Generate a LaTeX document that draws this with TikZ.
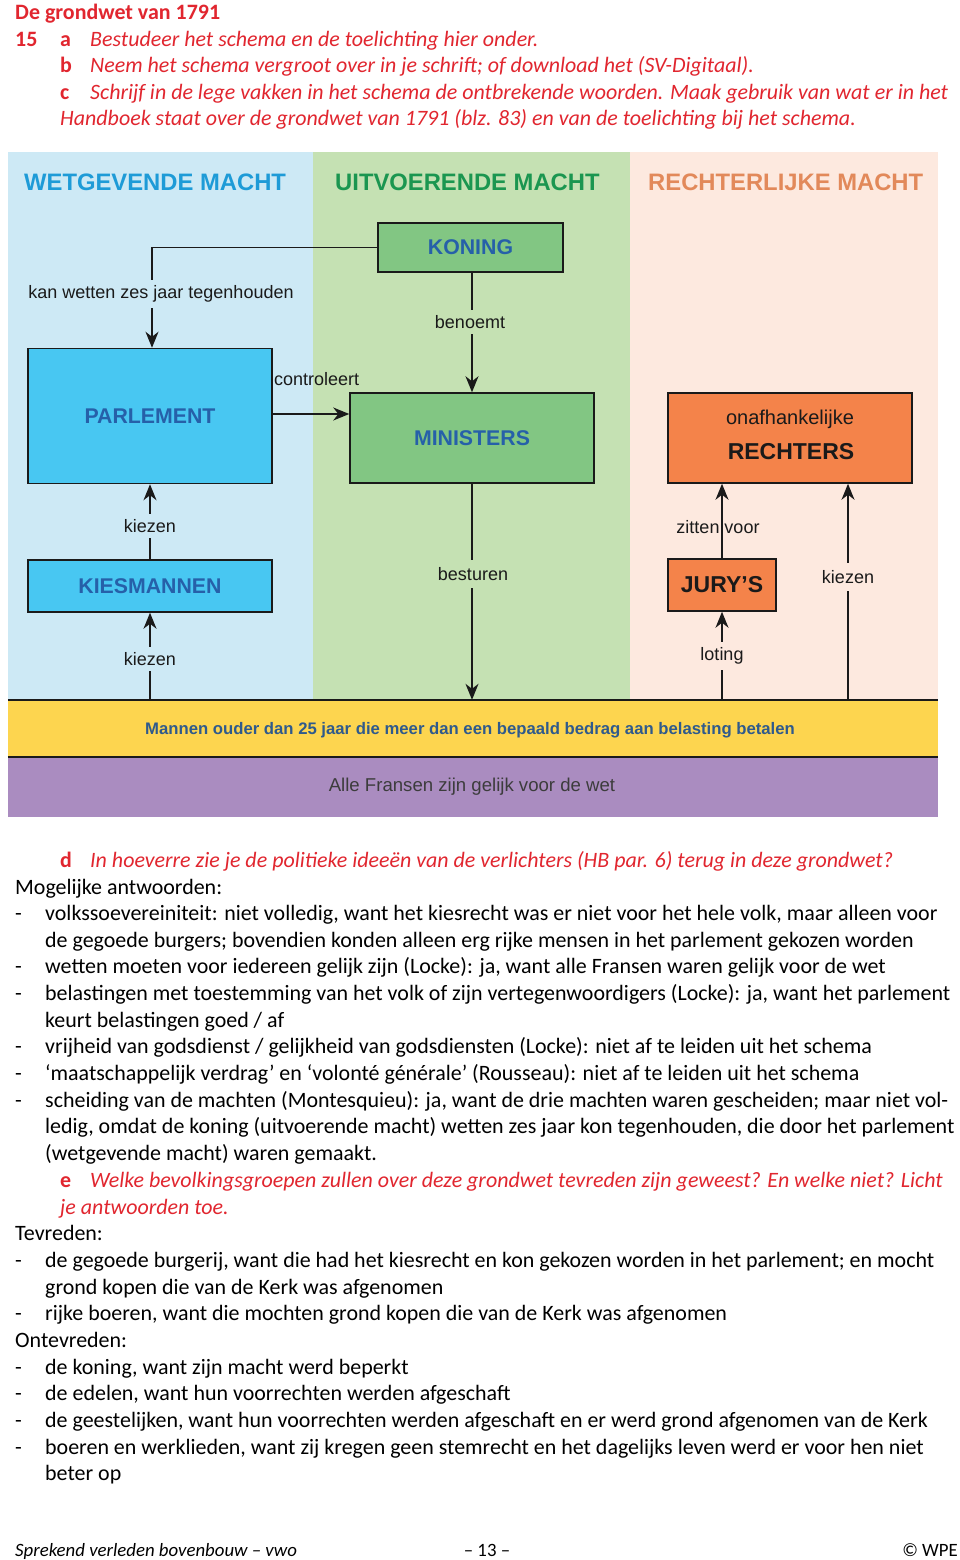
\documentclass[tikz,border=0pt]{standalone}
\usepackage{fontspec}
\setmainfont{Carlito}
\newfontfamily\arialf{Liberation Sans}
\usetikzlibrary{arrows.meta,calc}
\definecolor{redq}{HTML}{E1262F}
\definecolor{bgblue}{HTML}{CDE9F5}
\definecolor{bggreen}{HTML}{C5E1B3}
\definecolor{bgpeach}{HTML}{FDE9DF}
\definecolor{hdblue}{HTML}{1E9BD7}
\definecolor{hdgreen}{HTML}{1B9650}
\definecolor{hdorange}{HTML}{E2895A}
\definecolor{boxcyan}{HTML}{48C7F2}
\definecolor{boxgreen}{HTML}{82C683}
\definecolor{boxorange}{HTML}{F4834A}
\definecolor{txtblue}{HTML}{2660A9}
\definecolor{bandyellow}{HTML}{FDD54F}
\definecolor{bandpurple}{HTML}{AA8CC0}
\definecolor{bandtxt}{HTML}{2F5A8C}
\definecolor{ink}{HTML}{1A1A1A}
\newcommand\bodyf{\fontsize{21.95}{26.5}\selectfont}
\newcommand\labf{\arialf\fontsize{18}{20}\selectfont}
\begin{document}
\begin{tikzpicture}[x=1pt,y=-1pt,
  txt/.style={anchor=base west, inner sep=0pt, font=\bodyf, text=black},
  qtxt/.style={txt, font=\bodyf\itshape, text=redq},
  qlab/.style={txt, font=\bodyf\bfseries, text=redq},
  hdr/.style={font=\arialf\bfseries\fontsize{23.8}{26}\selectfont, inner sep=0pt},
  box/.style={draw=ink, line width=1.5pt, inner sep=0pt},
  btxt/.style={font=\arialf\bfseries\fontsize{21.3}{24}\selectfont, text=txtblue},
  lab/.style={font=\labf, inner sep=2pt, text=ink},
  arr/.style={draw=ink, line width=1.3pt, -{Stealth[length=16pt,width=13pt,inset=5pt]}},
  ln/.style={draw=ink, line width=1.3pt}]
\useasboundingbox (0,0) rectangle (960,1560);
\fill[white] (0,0) rectangle (960,1560);

% ---------- header text ----------
\node[qlab] (title) at (15,20) {De grondwet van 1791};
\node[qlab] (n15) at (15,47) {15};
\node[qlab] (qa) at (60,47) {a};
\node[qtxt] (ta) at (90,47) {Bestudeer het schema en de toelichting hier onder.};
\node[qlab] (qb) at (60,73) {b};
\node[qtxt] (tb) at (90,73) {Neem het schema vergroot over in je schrift; of download het (SV-Digitaal).};
\node[qlab] (qc) at (60,100) {c};
\node[qtxt] (tc) at (90,100) {Schrijf in de lege vakken in het schema de ontbrekende woorden. Maak gebruik van wat er in het};
\node[qtxt] (tc2) at (60,126) {Handboek staat over de grondwet van 1791 (blz. 83) en van de toelichting bij het schema.};

% ---------- diagram backgrounds ----------
\fill[bgblue] (8,152) rectangle (313,700);
\fill[bggreen] (313,152) rectangle (630,700);
\fill[bgpeach] (630,152) rectangle (938,700);

\node[hdr, text=hdblue, anchor=west] (h1) at (24,182) {WETGEVENDE MACHT};
\node[hdr, text=hdgreen, anchor=west] (h2) at (335,182) {UITVOERENDE MACHT};
\node[hdr, text=hdorange, anchor=west] (h3) at (648,182) {RECHTERLIJKE MACHT};

% bands
\node[fill=bandyellow, minimum width=930pt, minimum height=57pt, inner sep=0pt] (band) at (473,728.5) {};
\node[font=\arialf\bfseries\fontsize{16.7}{18}\selectfont, text=bandtxt] (bandt) at (470,730) {Mannen ouder dan 25 jaar die meer dan een bepaald bedrag aan belasting betalen};
\node[fill=bandpurple, minimum width=930pt, minimum height=60pt, inner sep=0pt] (purp) at (473,787) {};
\node[font=\arialf\fontsize{18.6}{20}\selectfont, text=ink!85] (purpt) at (472,787) {Alle Fransen zijn gelijk voor de wet};
\draw[ink, line width=2.2pt] (band.north west) -- (band.north east);
\draw[ink, line width=2.2pt] (band.south west) -- (band.south east);

% boxes
\node[box, fill=boxgreen, minimum width=185pt, minimum height=49pt, btxt] (koning) at (470.5,247.5) {KONING};
\node[box, fill=boxcyan, minimum width=244pt, minimum height=135pt, btxt] (parl) at (150,416) {PARLEMENT};
\node[box, fill=boxcyan, minimum width=244pt, minimum height=52pt, btxt] (kies) at (150,586) {KIESMANNEN};
\node[box, fill=boxgreen, minimum width=244pt, minimum height=90pt, btxt] (min) at (472,438) {MINISTERS};
\node[box, fill=boxorange, minimum width=244pt, minimum height=90pt] (recht) at (790,438) {};
\node[font=\arialf\fontsize{20}{22}\selectfont, text=ink] (onaf) at (790,419) {onafhankelijke};
\node[font=\arialf\bfseries\fontsize{23}{25}\selectfont, text=ink] (rechtt) at (791,452) {RECHTERS};
\node[box, fill=boxorange, minimum width=108pt, minimum height=52pt, font=\arialf\bfseries\fontsize{23}{25}\selectfont, text=ink] (jury) at (722,585) {JURY’S};

% connectors
\coordinate (kz3) at (848,700);
\draw[arr] (koning.west) -| ($(parl.north)+(2,0)$);
\draw[arr] (koning.south -| min.north) -- (min.north);
\draw[arr] (parl.east |- 0,414) -- (min.west |- 0,414);
\draw[arr] (kies.north) -- (parl.south);
\draw[arr] (kies.south |- band.north) -- (kies.south);
\draw[arr] (min.south) -- (min.south |- band.north);
\draw[arr] (jury.south |- band.north) -- (jury.south);
\draw[arr] (jury.north) -- (jury.north |- recht.south);
\draw[arr] (kz3) -- (kz3 |- recht.south);

% labels
\node[lab, fill=bgblue, inner ysep=6pt] (l1) at (161,294) {kan wetten zes jaar tegenhouden};
\node[lab, fill=bggreen, inner ysep=5pt] (l2) at (470,322) {benoemt};
\node[lab, anchor=west, inner sep=0pt] (l3) at (274,379) {controleert};
\node[lab, fill=bgblue, inner ysep=5pt] (l4) at (150,526) {kiezen};
\node[lab, fill=bgblue, inner ysep=5pt] (l5) at (150,659) {kiezen};
\node[lab, fill=bggreen, inner ysep=7pt] (l6) at (473,574) {besturen};
\node[lab, inner sep=0pt] (l7) at (718,527) {zitten voor};
\node[lab, fill=bgpeach, inner ysep=6pt] (l8) at (722,656) {loting};
\node[lab, fill=bgpeach, inner ysep=7pt] (l9) at (848,577) {kiezen};

% ---------- answers ----------
\node[qlab] (qd) at (60,867) {d};
\node[qtxt] (td) at (90,867) {In hoeverre zie je de politieke ideeën van de verlichters (HB par. 6) terug in deze grondwet?};
\node[txt] (m0) at (15,894) {Mogelijke antwoorden:};
\node[txt] (d1) at (15,920) {-};
\node[txt] (m1) at (45,920) {volkssoevereiniteit: niet volledig, want het kiesrecht was er niet voor het hele volk, maar alleen voor};
\node[txt] (m1b) at (45,947) {de gegoede burgers; bovendien konden alleen erg rijke mensen in het parlement gekozen worden};
\node[txt] (d2) at (15,973) {-};
\node[txt] (m2) at (45,973) {wetten moeten voor iedereen gelijk zijn (Locke): ja, want alle Fransen waren gelijk voor de wet};
\node[txt] (d3) at (15,1000) {-};
\node[txt] (m3) at (45,1000) {belastingen met toestemming van het volk of zijn vertegenwoordigers (Locke): ja, want het parlement};
\node[txt] (m3b) at (45,1027) {keurt belastingen goed / af};
\node[txt] (d4) at (15,1053) {-};
\node[txt] (m4) at (45,1053) {vrijheid van godsdienst / gelijkheid van godsdiensten (Locke): niet af te leiden uit het schema};
\node[txt] (d5) at (15,1080) {-};
\node[txt] (m5) at (45,1080) {‘maatschappelijk verdrag’ en ‘volonté générale’ (Rousseau): niet af te leiden uit het schema};
\node[txt] (d6) at (15,1107) {-};
\node[txt] (m6) at (45,1107) {scheiding van de machten (Montesquieu): ja, want de drie machten waren gescheiden; maar niet vol-};
\node[txt] (m6b) at (45,1133) {ledig, omdat de koning (uitvoerende macht) wetten zes jaar kon tegenhouden, die door het parlement};
\node[txt] (m6c) at (45,1160) {(wetgevende macht) waren gemaakt.};
\node[qlab] (qe) at (60,1187) {e};
\node[qtxt] (te) at (90,1187) {Welke bevolkingsgroepen zullen over deze grondwet tevreden zijn geweest? En welke niet? Licht};
\node[qtxt] (te2) at (60,1214) {je antwoorden toe.};
\node[txt] (tv) at (15,1240) {Tevreden:};
\node[txt] (d7) at (15,1267) {-};
\node[txt] (t1) at (45,1267) {de gegoede burgerij, want die had het kiesrecht en kon gekozen worden in het parlement; en mocht};
\node[txt] (t1b) at (45,1294) {grond kopen die van de Kerk was afgenomen};
\node[txt] (d8) at (15,1320) {-};
\node[txt] (t2) at (45,1320) {rijke boeren, want die mochten grond kopen die van de Kerk was afgenomen};
\node[txt] (ov) at (15,1347) {Ontevreden:};
\node[txt] (d9) at (15,1374) {-};
\node[txt] (o1) at (45,1374) {de koning, want zijn macht werd beperkt};
\node[txt] (d10) at (15,1400) {-};
\node[txt] (o2) at (45,1400) {de edelen, want hun voorrechten werden afgeschaft};
\node[txt] (d11) at (15,1427) {-};
\node[txt] (o3) at (45,1427) {de geestelijken, want hun voorrechten werden afgeschaft en er werd grond afgenomen van de Kerk};
\node[txt] (d12) at (15,1454) {-};
\node[txt] (o4) at (45,1454) {boeren en werklieden, want zij kregen geen stemrecht en het dagelijks leven werd er voor hen niet};
\node[txt] (o4b) at (45,1480) {beter op};

% footer
\node[txt, font=\fontsize{18.8}{22}\selectfont\itshape] (f1) at (15,1556) {Sprekend verleden bovenbouw – vwo};
\node[txt, font=\fontsize{18.8}{22}\selectfont, anchor=base] (f2) at (487,1556) {– 13 –};
\node[txt, font=\fontsize{18.8}{22}\selectfont, anchor=base east] (f3) at (958,1556) {© WPE};
\end{tikzpicture}
\end{document}
